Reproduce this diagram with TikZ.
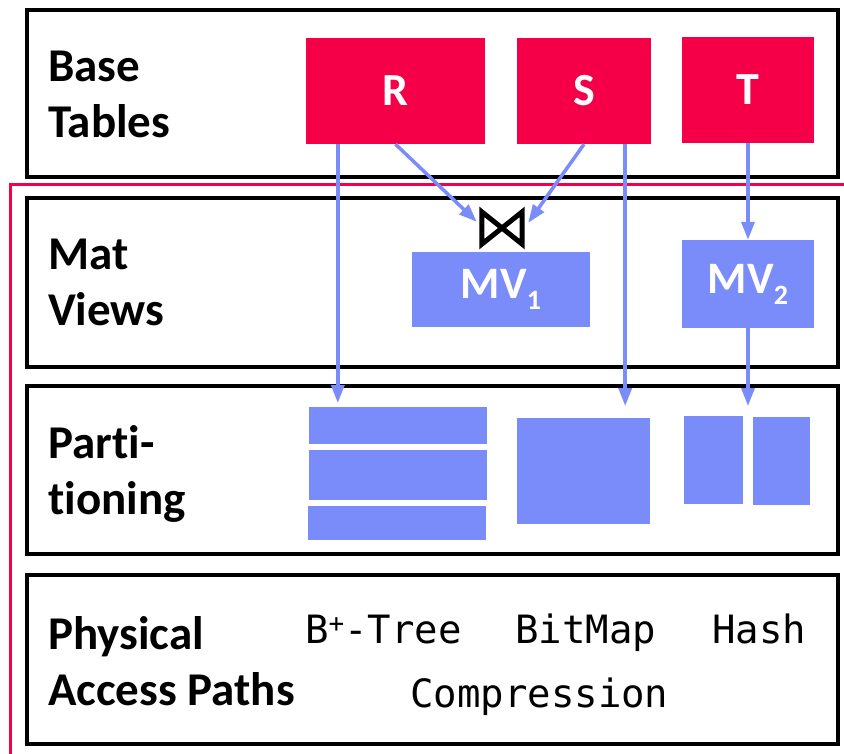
\documentclass[tikz,border=0pt]{standalone}
\usepackage{fontspec}
\setmainfont{Carlito}[Ligatures=NoCommon]
\newfontfamily\monof{DejaVu Sans Mono}
\usetikzlibrary{arrows.meta,calc}
\definecolor{tblred}{RGB}{245,0,72}
\definecolor{mvblue}{RGB}{122,139,250}
\begin{document}
\begin{tikzpicture}[x=1pt,y=-1pt,
  layer/.style={draw=black, line width=4pt, inner sep=0pt},
  tbl/.style={fill=tblred, text=white, inner sep=0pt, font=\bfseries\fontsize{46}{56}\selectfont},
  mv/.style={fill=mvblue, text=white, inner sep=0pt, font=\bfseries\fontsize{45}{54}\selectfont},
  part/.style={fill=mvblue, inner sep=0pt},
  lbl/.style={align=left, inner sep=0pt, anchor=base west, font=\bfseries\fontsize{47}{56}\selectfont},
  mono/.style={inner sep=0pt, anchor=base west, font=\monof\fontsize{39}{47}\selectfont},
  arr/.style={draw=mvblue, line width=3.5pt, -{Triangle[length=18pt,width=13pt]}}
]
\useasboundingbox (0,0) rectangle (844,754);
% red outline
\draw[tblred, line width=3pt] (10,756) -- (10,185) -- (846,185);
% layers
\node[layer, minimum width=811pt, minimum height=167pt] (L1) at (432.5,93.5) {};
\node[layer, minimum width=811pt, minimum height=169pt] (L2) at (432.5,282.5) {};
\node[layer, minimum width=811pt, minimum height=168pt] (L3) at (432.5,470) {};
\node[layer, minimum width=811pt, minimum height=169pt] (L4) at (432.5,659.5) {};
% labels (anchor = baseline of the last line)
\node[lbl] (lab1) at (48,138) {Base\\Tables};
\node[lbl] (lab2) at (48,326) {Mat\\Views};
\node[lbl] (lab3) at (48,514) {Parti-\\tioning};
\node[lbl] (lab4) at (48,705) {Physical\\Access Paths};
% base tables
\node[tbl, minimum width=179pt, minimum height=106pt] (R) at (395.5,91) {R};
\node[tbl, minimum width=134pt, minimum height=106pt] (S) at (584,91) {S};
\node[tbl, minimum width=132pt, minimum height=106pt] (T) at (748,90) {T};
% mat views
\node[mv, minimum width=178pt, minimum height=75pt] (MV1) at (501,289.5) {MV\raisebox{-11pt}{\fontsize{28}{30}\selectfont 1}};
\node[mv, minimum width=132pt, minimum height=88pt] (MV2) at (748,284) {MV\raisebox{-11pt}{\fontsize{28}{30}\selectfont 2}};
% join symbol
\node[inner sep=0pt, minimum width=40pt, minimum height=32pt] (join) at (502,228) {};
\draw[line width=5pt, line join=miter] (join.north west) -- (join.south west) -- (join.north east) -- (join.south east) -- cycle;
% partitions
\node[part, minimum width=178pt, minimum height=37pt] (pa) at (398,425.5) {};
\node[part, minimum width=178pt, minimum height=50pt] (pb) at (398,475) {};
\node[part, minimum width=178pt, minimum height=34pt] (pc) at (397,523) {};
\node[part, minimum width=133pt, minimum height=106pt] (pd) at (583.5,471) {};
\node[part, minimum width=59pt, minimum height=88pt] (pe) at (713.5,460) {};
\node[part, minimum width=57pt, minimum height=88pt] (pf) at (781.5,461) {};
% access paths
\node[mono] (btree) at (305,643) {B{\fontsize{26}{26}\selectfont\raisebox{11pt}{+}}-Tree};
\node[mono] (bitmap) at (515,643) {BitMap};
\node[mono] (hash) at (712,643) {Hash};
\node[mono] (compr) at (410,707) {Compression};
% arrows
\coordinate (rdown) at ($(R.south west)+(32,0)$);
\coordinate (sdown) at ($(S.south east)+(-26,0)$);
\draw[arr] (rdown) -- (rdown |- 0,403);
\draw[arr] (sdown) -- (sdown |- 0,406);
\draw[arr] (R.south) -- ($(join.north west)+(-5,10)$);
\draw[arr] (S.south) -- ($(join.north east)+(6,11)$);
\draw[arr] (T.south) -- (MV2.north);
\draw[arr] (MV2.south) -- (MV2.south |- 0,406);
\end{tikzpicture}
\end{document}
